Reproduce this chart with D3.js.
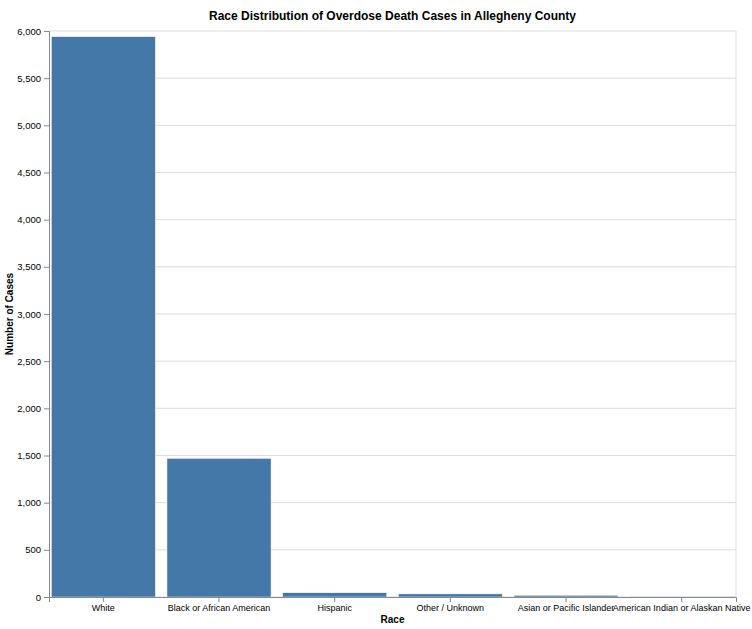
<!DOCTYPE html>
<html><head><meta charset="utf-8">
<script src="https://cdn.jsdelivr.net/npm/d3@7"></script>
<style>body{margin:0;background:#fff;font-family:"Liberation Sans",Arial,sans-serif}</style>
</head><body>
<script>
const races = ["White", "Black or African American", "Hispanic", "Other / Unknown", "Asian or Pacific Islander", "American Indian or Alaskan Native"];
const cases = [5940, 1470, 45, 33, 18, 8];
const yTicks = d3.range(0, 6001, 500);

const margin = {top: 31, left: 49, right: 16, bottom: 32};
const width = 752, height = 629;
const iw = width - margin.left - margin.right, ih = height - margin.top - margin.bottom;

const svg = d3.select("body").append("svg").attr("width", width).attr("height", height)
  .style("font-family", "Liberation Sans, Arial, sans-serif");
const g = svg.append("g").attr("transform", `translate(${margin.left},${margin.top})`);

const x = d3.scaleBand().domain(races).range([0, iw]).paddingInner(0.1).paddingOuter(0.02);
const y = d3.scaleLinear().domain([0, 6000]).range([ih, 0]);

// grid
g.append("g").selectAll("line").data(yTicks).join("line")
  .attr("x1", 0).attr("x2", iw).attr("y1", d => y(d)).attr("y2", d => y(d))
  .attr("stroke", "#ddd");
g.append("line").attr("x1", iw).attr("x2", iw).attr("y1", 0).attr("y2", ih).attr("stroke", "#ddd");

g.append("g").selectAll("rect").data(races).join("rect")
  .attr("x", d => x(d)).attr("width", x.bandwidth())
  .attr("y", (d, i) => y(cases[i])).attr("height", (d, i) => ih - y(cases[i]))
  .attr("fill", "#4378a8").attr("stroke", "#fff").attr("stroke-width", 0.5);

const yAxis = g.append("g").call(d3.axisLeft(y).tickValues(yTicks).tickFormat(d3.format(",")).tickSize(5));
const xAxis = g.append("g").attr("transform", `translate(0,${ih})`).call(d3.axisBottom(x).tickSize(5));
[yAxis, xAxis].forEach(a => {
  a.selectAll("path,line").attr("stroke", "#888");
  a.selectAll("text").attr("font-size", 9.5).attr("fill", "#000");
});
xAxis.selectAll("text").attr("font-size", 9);

svg.append("text").attr("x", margin.left + iw / 2).attr("y", 20).attr("text-anchor", "middle")
  .attr("font-size", 12).attr("font-weight", "bold").text("Race Distribution of Overdose Death Cases in Allegheny County");
svg.append("text").attr("x", margin.left + iw / 2).attr("y", height - 6).attr("text-anchor", "middle")
  .attr("font-size", 10).attr("font-weight", "bold").text("Race");
svg.append("text").attr("transform", `translate(13,${margin.top + ih / 2}) rotate(-90)`).attr("text-anchor", "middle")
  .attr("font-size", 10).attr("font-weight", "bold").text("Number of Cases");
</script>
</body></html>
